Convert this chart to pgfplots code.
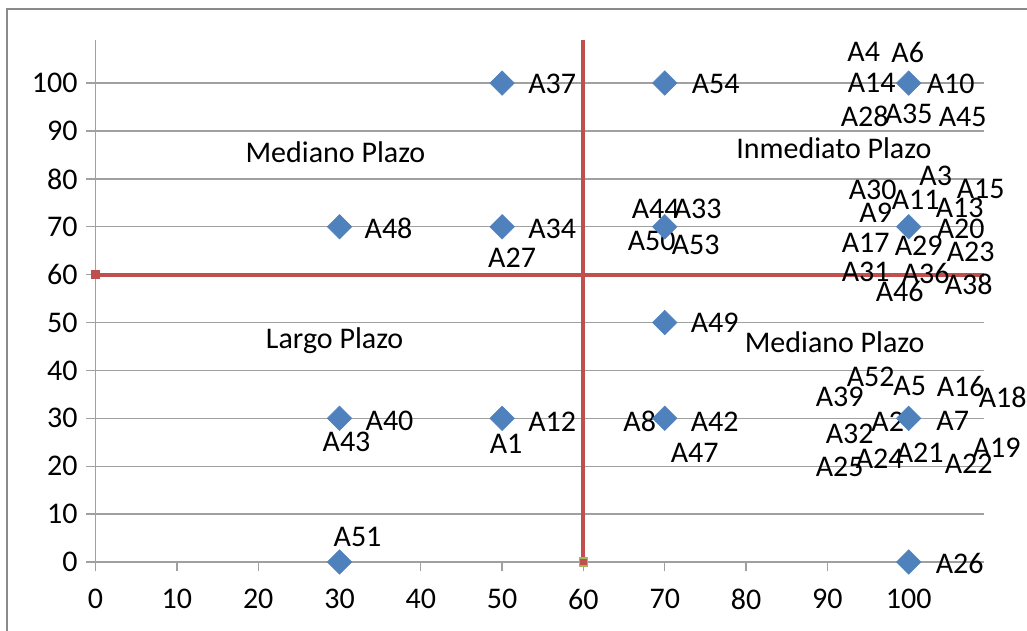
\documentclass[border=0pt]{standalone}
\usepackage{pgfplots}
\pgfplotsset{compat=1.18}
\usepackage{fontspec}
\setmainfont{Carlito}

\definecolor{ptblue}{HTML}{4F81BD}
\definecolor{ptred}{HTML}{C0504D}
\definecolor{ptgreen}{HTML}{9BBB59}
\definecolor{gridgray}{HTML}{A0A0A0}
\definecolor{framegray}{HTML}{8A8A8A}

% label at a data point, offset given in pixels of the reference
\newcommand{\lab}[5]{\node[xshift=#3*0.75pt,yshift=#4*0.75pt] at (axis cs:#1,#2) {#5};}

\begin{document}
\begin{tikzpicture}
\useasboundingbox (0,0) rectangle (770.25pt,473.25pt);
\draw[framegray, line width=2pt] (5.25pt,0) -- (5.25pt,466.5pt) -- (775pt,466.5pt);

\begin{axis}[
    at={(71.7pt,51.75pt)}, anchor=south west,
    scale only axis, width=666.5pt, height=391.5pt,
    xmin=0, xmax=109.3, ymin=0, ymax=109,
    axis x line=bottom, axis y line=left,
    axis line style={-, gridgray, line width=1pt},
    xtick={0,10,...,100}, ytick={0,10,...,100},
    tick align=outside, major tick length=7pt,
    tick style={gridgray, line width=1pt},
    ymajorgrids, grid style={gridgray, line width=1pt},
    font=\fontsize{22.5}{26}\selectfont,
    /pgf/number format/assume math mode=true,
    xticklabel style={yshift=-10pt},
    yticklabel style={xshift=-3pt},
    clip=false,
  ]

% quadrant dividers
\addplot[ptred, line width=3pt, mark=square*, mark indices={1}, mark size=3pt,
    mark options={fill=ptred, draw=ptred, line width=0.5pt}]
  coordinates {(0,60) (109.3,60)};
\addplot[ptred, line width=3pt, mark=square*, mark indices={1}, mark size=3pt,
    mark options={fill=ptred, draw=ptgreen, line width=1pt}]
  coordinates {(60,0) (60,109)};

% activities
\addplot[only marks, mark=square*, mark size=6.5pt,
    mark options={rotate=45, fill=ptblue, draw=ptblue}]
  coordinates {
    (30,70) (50,100) (50,70) (70,100) (70,70) (100,100) (100,70)
    (70,50) (30,30) (50,30) (70,30) (100,30) (30,0) (100,0)
  };

% quadrant names
\node at (axis cs:29.5,85.6) {Mediano Plazo};
\node at (axis cs:90.8,86.4) {Inmediato Plazo};
\node at (axis cs:29.4,46.3) {Largo Plazo};
\node at (axis cs:90.9,45.9) {Mediano Plazo};

% (100,100)
\lab{100}{100}{-45}{31}{A4}
\lab{100}{100}{-1}{31}{A6}
\lab{100}{100}{-37}{0}{A14}
\lab{100}{100}{42}{-1}{A10}
\lab{100}{100}{-44}{-33}{A28}
\lab{100}{100}{0}{-31}{A35}
\lab{100}{100}{54}{-34}{A45}
% (100,70)
\lab{100}{70}{27}{51}{A3}
\lab{100}{70}{-36}{37}{A30}
\lab{100}{70}{72}{38}{A15}
\lab{100}{70}{7}{27}{A11}
\lab{100}{70}{51}{19}{A13}
\lab{100}{70}{-33}{14}{A9}
\lab{100}{70}{52}{-2}{A20}
\lab{100}{70}{-43}{-16}{A17}
\lab{100}{70}{10}{-19}{A29}
\lab{100}{70}{62}{-25}{A23}
\lab{100}{70}{-43}{-45}{A31}
\lab{100}{70}{17}{-47}{A36}
\lab{100}{70}{-9}{-65}{A46}
\lab{100}{70}{60}{-58}{A38}
% (100,30)
\lab{100}{30}{-38}{41}{A52}
\lab{100}{30}{-69}{21}{A39}
\lab{100}{30}{1}{32}{A5}
\lab{100}{30}{52}{32}{A16}
\lab{100}{30}{94}{21}{A18}
\lab{100}{30}{-21}{-3}{A2}
\lab{100}{30}{44}{-3}{A7}
\lab{100}{30}{-59}{-16}{A32}
\lab{100}{30}{-29}{-40}{A24}
\lab{100}{30}{11}{-34}{A21}
\lab{100}{30}{88}{-29}{A19}
\lab{100}{30}{-69}{-49}{A25}
\lab{100}{30}{60}{-45}{A22}
% (100,0)
\lab{100}{0}{51}{-1}{A26}
% other points
\lab{50}{100}{50}{-1}{A37}
\lab{70}{100}{51}{-1}{A54}
\lab{30}{70}{49}{-2}{A48}
\lab{50}{70}{50}{-2}{A34}
\lab{50}{70}{10}{-31}{A27}
\lab{70}{70}{-9}{18}{A44}
\lab{70}{70}{33}{18}{A33}
\lab{70}{70}{-13}{-14}{A50}
\lab{70}{70}{31}{-18}{A53}
\lab{70}{50}{50}{0}{A49}
\lab{30}{30}{50}{-3}{A40}
\lab{30}{30}{7}{-24}{A43}
\lab{50}{30}{50}{-3}{A12}
\lab{50}{30}{4}{-26}{A1}
\lab{70}{30}{-25}{-3}{A8}
\lab{70}{30}{50}{-3}{A42}
\lab{70}{30}{30}{-35}{A47}
\lab{30}{0}{18}{25}{A51}
\end{axis}
\end{tikzpicture}
\end{document}
